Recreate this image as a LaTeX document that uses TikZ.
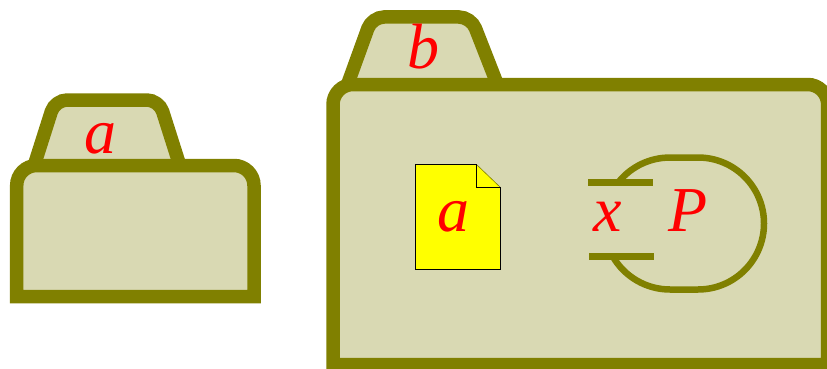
\documentclass[tikz,border=0pt]{standalone}
\usepackage{fontspec}
\setmainfont{Liberation Serif}
\definecolor{folderline}{HTML}{808000}
\definecolor{folderfill}{HTML}{D9D9B3}
\definecolor{fileyellow}{RGB}{255,255,0}
\tikzset{
    foldershape/.style={draw=folderline, fill=folderfill, line width=13.5pt, line join=miter},
    letter/.style={text=red, anchor=base, inner sep=0pt, font=\fontsize{64}{64}\selectfont\itshape},
    portbar/.style={draw=folderline, line width=6.8pt},
    procline/.style={draw=folderline, line width=6.5pt},
}
\begin{document}
\begin{tikzpicture}[x=1pt, y=-1pt]
    \useasboundingbox (0,0) rectangle (827,369);
    \clip (0,0) rectangle (827,369);

    \draw[foldershape, rounded corners=12pt]
        (34,166) -- (55,100) -- (159,100) -- (180,166);
    \draw[foldershape] (16.7,296.7) [rounded corners=20pt] -- (16.7,165.5)
        -- (254,165.5) [sharp corners] -- (254,296.7) -- cycle;
    \node[letter] (taba) at (100,153) {a};

    \draw[foldershape, rounded corners=12pt]
        (347,86) -- (372,17) -- (471,17) -- (498,86);
    \draw[foldershape] (333,364.5) [rounded corners=20pt] -- (333,84.5)
        -- (827.7,84.5) [sharp corners] -- (827.7,364.5) -- cycle;
    \node[letter] (tabb) at (423,68) {b};

    \fill[fileyellow] (415.5,164.5) -- (476.5,164.5)
        -- (500.5,187.5) -- (500.5,269.5) -- (415.5,269.5) -- cycle;
    \draw[folderline, line width=0.6pt] (476.5,164.5) -- (500.5,187.5);
    \draw[black, line width=1pt] (476.5,164.5) -- (415.5,164.5) -- (415.5,269.5)
        -- (500.5,269.5) -- (500.5,187.5) -- (476.5,187.5) -- cycle;
    \node[letter] (filea) at (453,231) {a};

    \draw[procline] (618.6,182) arc[start angle=141, end angle=90, radius=66pt]
        -- (698,157.5) arc[start angle=90, end angle=-90, radius=66pt]
        -- (670,289.5) arc[start angle=-90, end angle=-150, radius=66pt];
    \draw[portbar] (588,182.3) -- (653,182.3);
    \draw[portbar] (589,256.3) -- (654,256.3);
    \node[letter] (portx) at (608,231.5) {x};
    \node[letter] (procp) at (688,231) {P};
\end{tikzpicture}
\end{document}
